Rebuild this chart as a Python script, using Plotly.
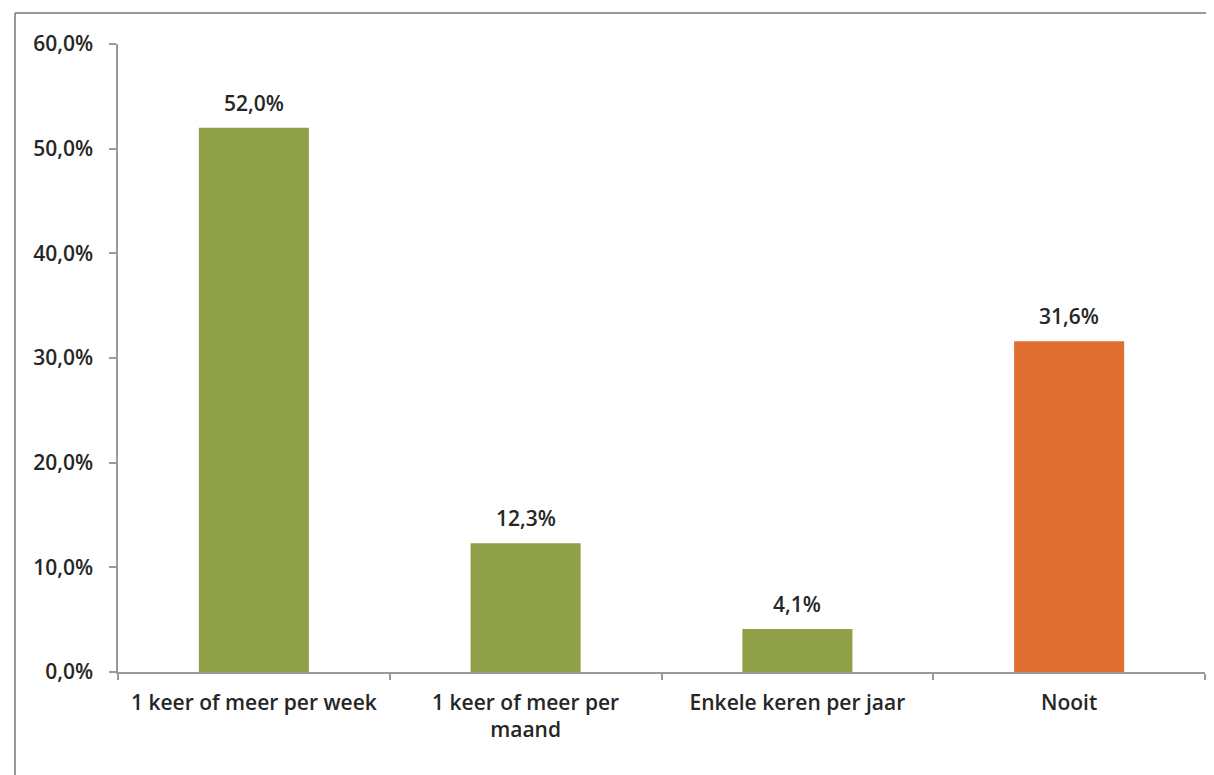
import plotly.graph_objects as go

categories = ["1 keer of meer per week", "1 keer of meer per<br>maand",
              "Enkele keren per jaar", "Nooit"]
values = [52.0, 12.3, 4.1, 31.6]
colors = ["#8FA046", "#8FA046", "#8FA046", "#E06E30"]
y_ticks = [0, 10, 20, 30, 40, 50, 60]
y_ticktext = [f"{v:.1f}%".replace(".", ",") for v in y_ticks]

FONT = "Open Sans"
TXT = "#262626"
FS = 21
FW = 600

fig = go.Figure(go.Bar(
    x=categories, y=values, marker=dict(color=colors, line=dict(width=0)),
    width=0.405, showlegend=False, hoverinfo="skip"))

for c, v in zip(categories, values):
    fig.add_annotation(x=c, y=v, text=f"{v:.1f}%".replace(".", ","),
                       showarrow=False, yanchor="bottom", yshift=9,
                       font=dict(family=FONT, size=FS, color=TXT, weight=FW))

# body margin of 8px in the page: compensate
W, H = 1206, 767
L, T, R, B = 110, 36, 9, 103
pw, ph = W - L - R, H - T - B

fig.update_layout(
    width=W, height=H,
    margin=dict(l=L, r=R, t=T, b=B),
    paper_bgcolor="white", plot_bgcolor="white",
    font=dict(family=FONT, size=FS, color=TXT),
    xaxis=dict(showline=True, linecolor="#9a9a9a", linewidth=1.5,
               ticks="outside", tickson="boundaries", ticklen=6,
               tickcolor="#9a9a9a", tickwidth=1.5, ticklabelstandoff=11,
               tickfont=dict(family=FONT, size=FS, color=TXT, weight=FW)),
    yaxis=dict(range=[0, 60], tickvals=y_ticks, ticktext=y_ticktext,
               showline=True, linecolor="#9a9a9a",
               linewidth=1.5, ticks="outside", ticklen=7,
               tickcolor="#9a9a9a", tickwidth=1.5, showgrid=False,
               zeroline=False, ticklabelstandoff=12,
               tickfont=dict(family=FONT, size=FS, color=TXT, weight=FW)),
    shapes=[
        dict(type="line", xref="paper", yref="paper",
             x0=(7 - L) / pw, x1=1.2, y0=(ph + T - 5) / ph,
             y1=(ph + T - 5) / ph, line=dict(color="#777777", width=1.5)),
        dict(type="line", xref="paper", yref="paper",
             x0=(7 - L) / pw, x1=(7 - L) / pw,
             y0=(ph + T - 5) / ph, y1=-0.3,
             line=dict(color="#777777", width=1.5)),
    ],
)

fig.write_html("out.html")
